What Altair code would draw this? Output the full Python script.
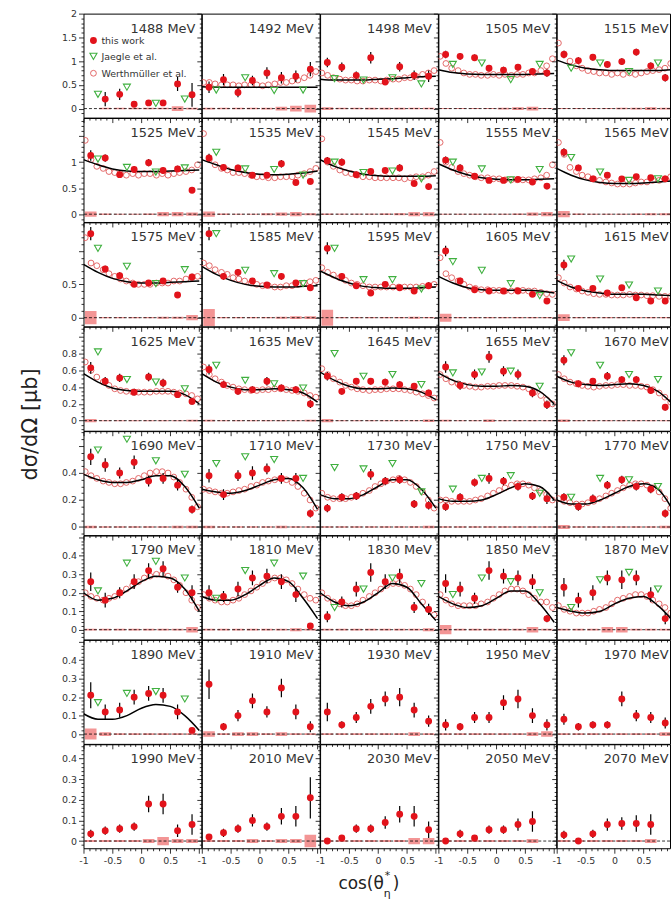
import json
import math
import altair as alt
import pandas as pd

# ---------------------------------------------------------------- data
ENERGIES = [1488, 1492, 1498, 1505, 1515,
            1525, 1535, 1545, 1555, 1565,
            1575, 1585, 1595, 1605, 1615,
            1625, 1635, 1645, 1655, 1670,
            1690, 1710, 1730, 1750, 1770,
            1790, 1810, 1830, 1850, 1870,
            1890, 1910, 1930, 1950, 1970,
            1990, 2010, 2030, 2050, 2070]

TW_X = [-0.875, -0.625, -0.375, -0.125, 0.125, 0.375, 0.625, 0.875]
JG_X = [-0.75, -0.25, 0.25, 0.75]
WM_X = [-0.97, -0.87, -0.77, -0.66, -0.56, -0.46, -0.36, -0.26, -0.15, -0.05,
        0.05, 0.15, 0.26, 0.36, 0.46, 0.56, 0.66, 0.77, 0.87, 0.97]
FIT_X = [-1.0, -0.75, -0.5, -0.25, 0.0, 0.25, 0.5, 0.75, 1.0]

# this work: cross sections
TW_Y = [
    [None, 0.20, 0.30, 0.09, 0.12, 0.12, 0.52, 0.29],
    [0.45, 0.61, 0.34, 0.59, 0.75, 0.65, 0.68, 0.83],
    [0.97, 0.87, 0.70, 1.07, 0.56, 0.88, 0.70, 0.68],
    [1.14, 1.10, 1.07, 0.85, 0.81, 0.87, 0.78, 0.75],
    [1.14, 1.01, 1.08, 0.93, 0.99, 1.19, 0.90, 0.65],
    [1.13, 1.08, 0.76, 0.86, 0.99, 0.84, 0.87, 0.46],
    [1.08, 0.90, 0.89, 0.75, 0.75, 0.97, 0.61, 0.63],
    [1.03, 1.00, 0.76, 0.82, 0.84, 0.89, 0.59, 0.53],
    [1.04, 0.89, 0.73, 0.65, 0.65, 0.67, 0.62, 0.54],
    [1.19, 0.89, 0.68, 0.75, 0.68, 0.72, 0.70, 0.68],
    [1.26, 0.73, 0.63, 0.50, 0.52, 0.55, 0.34, 0.61],
    [1.26, 0.62, 0.68, 0.55, 0.49, 0.62, 0.52, 0.45],
    [1.04, 0.62, 0.48, 0.37, 0.50, 0.45, 0.40, 0.48],
    [1.00, 0.55, 0.42, 0.40, 0.40, 0.40, 0.35, 0.25],
    [0.79, 0.44, 0.44, 0.37, 0.45, 0.30, 0.25, 0.25],
    [0.63, 0.47, 0.51, 0.34, 0.52, 0.45, 0.31, 0.23],
    [0.61, 0.43, 0.35, 0.37, 0.47, 0.39, 0.37, 0.20],
    [0.53, 0.35, 0.47, 0.47, 0.46, 0.43, 0.41, 0.33],
    [0.64, 0.42, 0.55, 0.76, 0.59, 0.55, 0.33, 0.19],
    [0.72, 0.44, 0.47, 0.53, 0.49, 0.49, 0.36, 0.16],
    [0.52, 0.46, 0.40, 0.48, 0.34, 0.36, 0.31, 0.13],
    [0.38, 0.24, 0.38, 0.40, 0.43, 0.36, 0.36, 0.10],
    [0.14, 0.22, 0.23, 0.39, 0.34, 0.35, 0.17, 0.16],
    [0.15, 0.22, 0.33, 0.36, 0.34, 0.30, 0.23, 0.21],
    [0.22, 0.15, 0.21, 0.31, 0.35, 0.30, 0.28, 0.10],
    [0.26, 0.16, 0.20, 0.26, 0.32, 0.33, 0.23, 0.20],
    [0.20, 0.18, 0.22, 0.28, 0.29, 0.26, 0.19, 0.02],
    [0.07, 0.15, 0.22, 0.31, 0.26, 0.29, 0.12, 0.11],
    [0.25, 0.22, 0.17, 0.32, 0.29, 0.28, 0.26, 0.06],
    [0.23, 0.16, 0.20, 0.28, 0.27, 0.28, 0.19, 0.06],
    [0.21, 0.12, 0.13, 0.20, 0.22, 0.21, 0.12, 0.02],
    [0.27, 0.04, 0.10, 0.18, 0.12, 0.25, 0.12, 0.04],
    [0.12, 0.05, 0.09, 0.15, 0.19, 0.20, 0.13, 0.07],
    [0.05, 0.04, 0.09, 0.09, 0.17, 0.19, 0.10, 0.05],
    [0.08, 0.04, 0.05, 0.05, 0.19, 0.10, 0.09, 0.06],
    [0.035, 0.05, 0.06, 0.07, 0.18, 0.18, 0.05, 0.08],
    [0.02, 0.04, 0.06, 0.10, 0.07, 0.12, 0.12, 0.21],
    [0.0, 0.015, 0.06, 0.06, 0.09, 0.13, 0.12, 0.055],
    [0.0, 0.035, 0.015, 0.055, 0.055, 0.08, 0.095, None],
    [0.03, 0.0, 0.035, 0.08, 0.085, 0.085, 0.08, None],
]

# this work: statistical errors
TW_ERR = [
    [0, 0.15, 0.12, 0.05, 0.06, 0.06, 0.15, 0.25],
    [0.12, 0.12, 0.10, 0.10, 0.12, 0.12, 0.12, 0.15],
    [0.10, 0.10, 0.08, 0.12, 0.06, 0.10, 0.10, 0.12],
    [0.08, 0.07, 0.07, 0.07, 0.07, 0.07, 0.07, 0.08],
    [0.08, 0.07, 0.07, 0.07, 0.07, 0.07, 0.07, 0.08],
    [0.10, 0.07, 0.06, 0.06, 0.07, 0.06, 0.06, 0.04],
    [0.08, 0.06, 0.06, 0.05, 0.05, 0.07, 0.05, 0.06],
    [0.07, 0.07, 0.06, 0.05, 0.05, 0.07, 0.05, 0.06],
    [0.07, 0.07, 0.05, 0.05, 0.05, 0.05, 0.05, 0.06],
    [0.08, 0.06, 0.05, 0.05, 0.05, 0.05, 0.05, 0.05],
    [0.10, 0.05, 0.05, 0.04, 0.04, 0.04, 0.01, 0.05],
    [0.10, 0.05, 0.05, 0.04, 0.04, 0.05, 0.04, 0.05],
    [0.09, 0.05, 0.04, 0.04, 0.04, 0.04, 0.04, 0.05],
    [0.08, 0.05, 0.04, 0.03, 0.03, 0.03, 0.04, 0.04],
    [0.08, 0.04, 0.04, 0.03, 0.03, 0.04, 0.04, 0.04],
    [0.07, 0.05, 0.05, 0.04, 0.05, 0.05, 0.04, 0.04],
    [0.06, 0.04, 0.04, 0.04, 0.05, 0.04, 0.04, 0.05],
    [0.05, 0.04, 0.04, 0.04, 0.04, 0.04, 0.04, 0.04],
    [0.07, 0.05, 0.06, 0.07, 0.06, 0.06, 0.05, 0.05],
    [0.06, 0.04, 0.04, 0.05, 0.04, 0.04, 0.04, 0.04],
    [0.06, 0.05, 0.04, 0.05, 0.04, 0.04, 0.04, 0.03],
    [0.05, 0.04, 0.04, 0.05, 0.04, 0.04, 0.04, 0.03],
    [0.03, 0.03, 0.03, 0.04, 0.03, 0.03, 0.03, 0.03],
    [0.03, 0.03, 0.03, 0.04, 0.03, 0.03, 0.03, 0.04],
    [0.03, 0.03, 0.03, 0.03, 0.03, 0.03, 0.03, 0.03],
    [0.05, 0.04, 0.03, 0.04, 0.04, 0.04, 0.03, 0.04],
    [0.04, 0.03, 0.04, 0.04, 0.04, 0.04, 0.04, 0.01],
    [0.03, 0.03, 0.04, 0.05, 0.04, 0.04, 0.03, 0.03],
    [0.05, 0.04, 0.03, 0.05, 0.04, 0.04, 0.04, 0.02],
    [0.05, 0.04, 0.04, 0.04, 0.05, 0.04, 0.04, 0.03],
    [0.07, 0.04, 0.04, 0.04, 0.04, 0.04, 0.04, 0.01],
    [0.08, 0.02, 0.03, 0.04, 0.03, 0.05, 0.04, 0.03],
    [0.05, 0.02, 0.03, 0.04, 0.04, 0.05, 0.04, 0.03],
    [0.03, 0.02, 0.03, 0.03, 0.04, 0.05, 0.04, 0.03],
    [0.03, 0.02, 0.02, 0.02, 0.04, 0.03, 0.03, 0.03],
    [0.02, 0.02, 0.02, 0.02, 0.04, 0.05, 0.03, 0.05],
    [0.01, 0.02, 0.02, 0.03, 0.02, 0.04, 0.05, 0.10],
    [0.01, 0.01, 0.02, 0.02, 0.03, 0.04, 0.05, 0.04],
    [0.01, 0.02, 0.01, 0.02, 0.02, 0.03, 0.05, 0],
    [0.02, 0.01, 0.02, 0.03, 0.03, 0.04, 0.05, 0],
]

# this work: systematic uncertainty (half height of the boxes)
SYS = [
    [0, 0.015, 0.015, 0.015, 0.015, 0.015, 0.05, 0.02],
    [0.02, 0.015, 0.015, 0.015, 0.02, 0.04, 0.06, 0.08],
    [0.03, 0.015, 0.015, 0.02, 0.02, 0.02, 0.015, 0.015],
    [0.01, 0.01, 0.01, 0.01, 0.02, 0.03, 0.04, 0.01],
    [0.01, 0.01, 0.01, 0.01, 0.015, 0.02, 0.03, 0.02],
    [0.05, 0.015, 0.01, 0.01, 0.015, 0.04, 0.04, 0.03],
    [0.05, 0.015, 0.01, 0.01, 0.02, 0.03, 0.04, 0.02],
    [0.015, 0.01, 0.01, 0.01, 0.015, 0.02, 0.04, 0.04],
    [0.01, 0.01, 0.01, 0.01, 0.01, 0.015, 0.03, 0.04],
    [0.06, 0.015, 0.01, 0.01, 0.01, 0.015, 0.02, 0.02],
    [0.10, 0.01, 0.01, 0.01, 0.01, 0.015, 0.015, 0.04],
    [0.13, 0.01, 0.01, 0.01, 0.01, 0.015, 0.02, 0.02],
    [0.12, 0.01, 0.01, 0.01, 0.01, 0.01, 0.015, 0.01],
    [0.06, 0.01, 0.01, 0.01, 0.01, 0.01, 0.01, 0.01],
    [0.05, 0.01, 0.01, 0.01, 0.01, 0.01, 0.01, 0.01],
    [0.02, 0.006, 0.006, 0.006, 0.006, 0.006, 0.006, 0.01],
    [0.01, 0.006, 0.006, 0.006, 0.006, 0.006, 0.006, 0.01],
    [0.02, 0.006, 0.006, 0.006, 0.006, 0.006, 0.006, 0.015],
    [0.01, 0.006, 0.006, 0.015, 0.006, 0.006, 0.006, 0.006],
    [0.015, 0.006, 0.006, 0.006, 0.006, 0.006, 0.006, 0.006],
    [0.01, 0.005, 0.005, 0.005, 0.005, 0.005, 0.01, 0.01],
    [0.01, 0.005, 0.005, 0.005, 0.005, 0.01, 0.005, 0.005],
    [0.005, 0.005, 0.005, 0.005, 0.005, 0.005, 0.005, 0.01],
    [0.005, 0.005, 0.005, 0.005, 0.005, 0.005, 0.005, 0.005],
    [0.015, 0.005, 0.005, 0.005, 0.005, 0.005, 0.005, 0.01],
    [0.005, 0.005, 0.005, 0.005, 0.005, 0.005, 0.005, 0.015],
    [0.005, 0.005, 0.005, 0.005, 0.005, 0.005, 0.008, 0.005],
    [0.005, 0.005, 0.005, 0.005, 0.005, 0.005, 0.005, 0.008],
    [0.025, 0.005, 0.005, 0.005, 0.005, 0.005, 0.015, 0.005],
    [0.005, 0.005, 0.005, 0.015, 0.015, 0.005, 0.005, 0.005],
    [0.03, 0.01, 0.005, 0.005, 0.005, 0.005, 0.005, 0.005],
    [0.015, 0.005, 0.01, 0.01, 0.005, 0.01, 0.005, 0.005],
    [0.005, 0.005, 0.005, 0.005, 0.005, 0.005, 0.01, 0.005],
    [0.005, 0.005, 0.005, 0.005, 0.005, 0.005, 0.01, 0.015],
    [0.005, 0.005, 0.005, 0.005, 0.005, 0.005, 0.005, 0.01],
    [0.005, 0.005, 0.005, 0.005, 0.01, 0.02, 0.01, 0.01],
    [0.005, 0.005, 0.005, 0.01, 0.005, 0.01, 0.01, 0.03],
    [0.005, 0.005, 0.005, 0.005, 0.005, 0.005, 0.015, 0.015],
    [0.005, 0.005, 0.005, 0.005, 0.005, 0.005, 0.01, 0],
    [0.005, 0.005, 0.005, 0.005, 0.005, 0.005, 0.01, 0],
]

# Jaegle et al.
JG_Y = [
    [0.30, 0.45, 0.11, 0.20], [0.39, 0.65, 0.38, 0.39], [0.63, 0.60, 0.65, 0.52],
    [0.93, 0.96, 0.61, 0.93], [0.85, 0.96, 0.78, 0.96],
    [1.06, 0.90, 0.81, 0.89], [1.19, 0.87, 0.86, 0.75], [1.00, 0.80, 0.83, 0.68],
    [1.00, 0.87, 0.66, 0.86], [1.09, 0.81, 0.65, 0.68],
    [1.04, 0.77, 0.51, 0.72], [1.26, 0.71, 0.66, 0.51], [1.04, 0.57, 0.57, 0.43],
    [0.84, 0.71, 0.51, 0.33], [0.88, 0.58, 0.49, 0.40],
    [0.82, 0.49, 0.46, 0.38], [0.66, 0.48, 0.44, 0.39], [0.80, 0.53, 0.55, 0.43],
    [0.57, 0.58, 0.59, 0.41], [0.81, 0.66, 0.55, 0.49],
    [0.57, 0.65, 0.49, 0.39], [0.47, 0.52, 0.50, 0.36], [0.44, 0.43, 0.47, 0.26],
    [0.28, 0.36, 0.38, 0.25], [0.22, 0.36, 0.35, 0.30],
    [0.21, 0.36, 0.37, 0.28], [0.17, 0.32, 0.36, 0.29], [0.12, 0.22, 0.28, 0.25],
    [0.19, 0.28, 0.26, 0.20], [0.12, 0.27, 0.31, 0.22],
    [0.17, 0.22, 0.23, 0.19],
    None, None, None, None, None, None, None, None, None,
]

# Werthmueller et al.
WM_Y = [
    None,
    [0.55, 0.55, 0.52, 0.50, 0.50, 0.50, 0.48, 0.50, 0.50, 0.50, 0.48, 0.50, 0.52, 0.55, 0.55, 0.58, 0.60, 0.65, 0.70, 0.78],
    [0.75, 0.70, 0.65, 0.62, 0.60, 0.60, 0.58, 0.58, 0.60, 0.60, 0.58, 0.60, 0.62, 0.62, 0.65, 0.65, 0.68, 0.72, 0.75, 0.80],
    [1.10, 0.95, 0.85, 0.80, 0.75, 0.72, 0.72, 0.70, 0.70, 0.72, 0.70, 0.72, 0.70, 0.72, 0.72, 0.75, 0.75, 0.80, 0.90, 1.05],
    [1.38, 1.15, 1.00, 0.90, 0.85, 0.80, 0.78, 0.75, 0.75, 0.72, 0.75, 0.72, 0.75, 0.72, 0.75, 0.78, 0.80, 0.82, 0.85, 0.95],
    [1.42, 1.05, 0.92, 0.88, 0.82, 0.80, 0.78, 0.75, 0.78, 0.75, 0.78, 0.78, 0.75, 0.78, 0.75, 0.78, 0.80, 0.82, 0.85, 0.95],
    [1.55, 1.05, 0.95, 0.88, 0.85, 0.80, 0.80, 0.78, 0.75, 0.72, 0.72, 0.70, 0.70, 0.72, 0.72, 0.72, 0.75, 0.78, 0.82, 0.88],
    [1.45, 1.00, 0.92, 0.85, 0.80, 0.78, 0.75, 0.72, 0.72, 0.70, 0.70, 0.70, 0.70, 0.70, 0.68, 0.70, 0.72, 0.72, 0.75, 0.82],
    [1.38, 1.00, 0.90, 0.82, 0.78, 0.75, 0.72, 0.70, 0.70, 0.68, 0.68, 0.66, 0.66, 0.66, 0.66, 0.66, 0.68, 0.70, 0.75, 0.95],
    [1.38, 1.15, 0.90, 0.82, 0.75, 0.72, 0.68, 0.65, 0.62, 0.60, 0.58, 0.58, 0.58, 0.60, 0.62, 0.62, 0.65, 0.65, 0.68, 0.72],
    [1.20, 0.82, 0.78, 0.72, 0.66, 0.62, 0.58, 0.55, 0.52, 0.50, 0.50, 0.50, 0.52, 0.52, 0.52, 0.55, 0.55, 0.58, 0.60, 0.62],
    [0.82, 0.78, 0.72, 0.68, 0.65, 0.60, 0.58, 0.55, 0.52, 0.50, 0.48, 0.48, 0.46, 0.46, 0.48, 0.48, 0.50, 0.52, 0.54, 0.56],
    [0.75, 0.68, 0.64, 0.60, 0.56, 0.52, 0.50, 0.48, 0.46, 0.46, 0.46, 0.46, 0.46, 0.46, 0.46, 0.46, 0.46, 0.47, 0.48, 0.50],
    [0.90, 0.66, 0.60, 0.55, 0.50, 0.46, 0.44, 0.42, 0.42, 0.41, 0.41, 0.40, 0.40, 0.41, 0.41, 0.40, 0.40, 0.38, 0.36, 0.35],
    [0.60, 0.52, 0.46, 0.43, 0.40, 0.38, 0.36, 0.35, 0.35, 0.34, 0.34, 0.34, 0.35, 0.34, 0.34, 0.33, 0.33, 0.32, 0.32, 0.32],
    [0.70, 0.60, 0.52, 0.46, 0.42, 0.38, 0.36, 0.35, 0.34, 0.34, 0.34, 0.34, 0.35, 0.35, 0.35, 0.34, 0.33, 0.32, 0.30, 0.26],
    [0.64, 0.55, 0.50, 0.46, 0.42, 0.40, 0.38, 0.37, 0.36, 0.36, 0.37, 0.37, 0.38, 0.38, 0.37, 0.36, 0.35, 0.33, 0.30, 0.28],
    [0.62, 0.55, 0.50, 0.46, 0.42, 0.40, 0.38, 0.37, 0.36, 0.37, 0.37, 0.38, 0.38, 0.38, 0.37, 0.36, 0.34, 0.32, 0.30, 0.27],
    [0.55, 0.50, 0.46, 0.44, 0.42, 0.41, 0.40, 0.40, 0.41, 0.41, 0.42, 0.42, 0.42, 0.41, 0.40, 0.38, 0.34, 0.30, 0.25, 0.20],
    [0.55, 0.50, 0.46, 0.44, 0.42, 0.41, 0.40, 0.41, 0.42, 0.42, 0.43, 0.43, 0.42, 0.42, 0.41, 0.40, 0.37, 0.33, 0.28, 0.22],
    [0.41, 0.38, 0.36, 0.34, 0.33, 0.32, 0.32, 0.33, 0.34, 0.36, 0.38, 0.40, 0.41, 0.41, 0.40, 0.37, 0.33, 0.28, 0.22, 0.15],
    [0.28, 0.27, 0.26, 0.25, 0.25, 0.26, 0.27, 0.28, 0.30, 0.31, 0.33, 0.34, 0.35, 0.36, 0.35, 0.33, 0.30, 0.25, 0.20, 0.14],
    [0.25, 0.22, 0.21, 0.21, 0.21, 0.22, 0.23, 0.25, 0.27, 0.30, 0.32, 0.34, 0.35, 0.36, 0.35, 0.33, 0.30, 0.26, 0.20, 0.14],
    [0.20, 0.20, 0.19, 0.19, 0.19, 0.19, 0.20, 0.21, 0.23, 0.25, 0.27, 0.29, 0.31, 0.32, 0.32, 0.31, 0.29, 0.27, 0.24, 0.20],
    [0.21, 0.19, 0.18, 0.17, 0.17, 0.18, 0.19, 0.21, 0.23, 0.25, 0.27, 0.29, 0.31, 0.32, 0.32, 0.31, 0.29, 0.26, 0.21, 0.14],
    [0.20, 0.18, 0.17, 0.16, 0.17, 0.18, 0.20, 0.22, 0.24, 0.26, 0.28, 0.29, 0.30, 0.30, 0.29, 0.27, 0.24, 0.20, 0.16, 0.12],
    [0.19, 0.17, 0.16, 0.15, 0.15, 0.16, 0.17, 0.19, 0.21, 0.23, 0.25, 0.27, 0.28, 0.28, 0.27, 0.25, 0.22, 0.19, 0.17, 0.16],
    [0.20, 0.17, 0.15, 0.14, 0.13, 0.13, 0.14, 0.16, 0.18, 0.20, 0.22, 0.24, 0.25, 0.25, 0.24, 0.22, 0.19, 0.15, 0.11, 0.08],
    [0.19, 0.16, 0.14, 0.13, 0.13, 0.13, 0.13, 0.14, 0.15, 0.17, 0.19, 0.21, 0.22, 0.22, 0.21, 0.19, 0.17, 0.15, 0.15, 0.12],
    [0.13, 0.11, 0.10, 0.09, 0.09, 0.09, 0.10, 0.11, 0.12, 0.14, 0.16, 0.17, 0.18, 0.19, 0.19, 0.18, 0.16, 0.14, 0.12, 0.09],
    None, None, None, None, None, None, None, None, None, None,
]

# model curve
FIT_Y = [
    None,
    [0.46, 0.45, 0.45, 0.45, 0.45, 0.45, 0.45, 0.45, 0.45],
    [0.62, 0.60, 0.60, 0.60, 0.62, 0.63, 0.65, 0.67, 0.68],
    [0.82, 0.76, 0.73, 0.72, 0.72, 0.72, 0.72, 0.73, 0.74],
    [1.02, 0.92, 0.85, 0.82, 0.80, 0.80, 0.80, 0.80, 0.82],
    [1.05, 0.95, 0.87, 0.83, 0.82, 0.82, 0.83, 0.84, 0.85],
    [1.05, 0.95, 0.86, 0.80, 0.77, 0.76, 0.77, 0.79, 0.83],
    [1.05, 0.92, 0.83, 0.77, 0.74, 0.73, 0.73, 0.73, 0.74],
    [0.97, 0.85, 0.76, 0.70, 0.67, 0.66, 0.66, 0.67, 0.68],
    [0.88, 0.75, 0.66, 0.61, 0.59, 0.59, 0.60, 0.62, 0.64],
    [0.80, 0.68, 0.59, 0.54, 0.52, 0.52, 0.53, 0.54, 0.55],
    [0.77, 0.65, 0.56, 0.50, 0.47, 0.46, 0.46, 0.47, 0.48],
    [0.70, 0.60, 0.52, 0.47, 0.45, 0.44, 0.44, 0.45, 0.46],
    [0.62, 0.52, 0.45, 0.42, 0.41, 0.41, 0.41, 0.40, 0.37],
    [0.56, 0.46, 0.40, 0.37, 0.35, 0.35, 0.35, 0.34, 0.33],
    [0.56, 0.46, 0.39, 0.36, 0.35, 0.35, 0.35, 0.31, 0.20],
    [0.56, 0.46, 0.40, 0.37, 0.37, 0.38, 0.37, 0.33, 0.22],
    [0.58, 0.48, 0.41, 0.38, 0.38, 0.39, 0.38, 0.34, 0.25],
    [0.57, 0.48, 0.43, 0.41, 0.41, 0.42, 0.41, 0.35, 0.20],
    [0.53, 0.46, 0.43, 0.42, 0.43, 0.44, 0.42, 0.35, 0.20],
    [0.39, 0.35, 0.33, 0.33, 0.35, 0.38, 0.38, 0.30, 0.14],
    [0.28, 0.26, 0.25, 0.27, 0.31, 0.35, 0.36, 0.29, 0.13],
    [0.24, 0.21, 0.21, 0.24, 0.30, 0.35, 0.35, 0.28, 0.14],
    [0.21, 0.19, 0.19, 0.20, 0.24, 0.29, 0.32, 0.30, 0.20],
    [0.20, 0.17, 0.17, 0.20, 0.25, 0.30, 0.32, 0.28, 0.13],
    [0.20, 0.16, 0.17, 0.21, 0.26, 0.29, 0.28, 0.22, 0.10],
    [0.18, 0.16, 0.16, 0.19, 0.24, 0.28, 0.26, 0.17, 0.06],
    [0.20, 0.15, 0.13, 0.15, 0.20, 0.25, 0.23, 0.14, 0.05],
    [0.18, 0.14, 0.12, 0.13, 0.17, 0.21, 0.21, 0.14, 0.04],
    [0.12, 0.10, 0.09, 0.10, 0.14, 0.17, 0.18, 0.13, 0.05],
    [0.11, 0.08, 0.08, 0.10, 0.14, 0.16, 0.15, 0.10, 0.02],
    None, None, None, None, None, None, None, None, None,
]

# axes
ROW_DOMAINS = [[-0.19, 2.0], [-0.15, 1.85], [-0.13, 1.43], [-0.12, 1.12],
               [-0.06, 0.71], [-0.053, 0.51], [-0.053, 0.51], [-0.035, 0.47]]
ROW_LABELS = [[0, 0.5, 1, 1.5, 2], [0, 0.5, 1], [0, 0.5], [0, 0.2, 0.4, 0.6, 0.8],
              [0, 0.2, 0.4], [0, 0.1, 0.2, 0.3, 0.4], [0, 0.1, 0.2, 0.3, 0.4],
              [0, 0.1, 0.2, 0.3, 0.4]]
ROW_MAJOR = [0.5, 0.5, 0.5, 0.2, 0.2, 0.1, 0.1, 0.1]
ROW_MINOR = [0.1, 0.1, 0.1, 0.05, 0.05, 0.02, 0.02, 0.02]
X_LABELS = [-1, -0.5, 0, 0.5]

LEGEND_LABELS = ["this work", "Jaegle et al.", "Werthmüller et al."]
Y_TITLE = "dσ/dΩ [μb]"
X_TITLE_PARTS = ["cos(θ", "*", "η", ")"]

# ---------------------------------------------------------------- style
PW = 118.5
PH = 104.6
LAST_W = 114.0
LEFT = 83
TOP = 10
BOTTOM_ROOM = 54
UNIT_PX = PW / 2.035
FONT = "DejaVu Sans"
RED = "#e2131b"
WM_COL = "#e05a5a"
JG_COL = "#3fb03f"
SYS_COL = "#f07a7a"
TXT = "#333333"
TITLE_COL = "#222222"
TW_SIZE = 48
JG_SIZE = 50
WM_SIZE = 34


def tick_list(lo, hi, step):
    n0 = math.ceil(lo / step - 1e-9)
    n1 = math.floor(hi / step + 1e-9)
    return [round(i * step, 4) for i in range(n0, n1 + 1)]


def make_axis(values, major, labels, show):
    test = f"abs(datum.value / {major} - round(datum.value / {major})) < 0.001"
    kw = dict(values=values, title=None, grid=False, domain=False,
              ticks=True, tickColor="black", tickWidth=0.8,
              tickSize={"condition": {"test": test, "value": 5}, "value": 2.5},
              labels=show, labelOverlap=False, labelFlush=False,
              labelFont=FONT, labelFontSize=9.5, labelColor=TXT, labelPadding=2)
    if show:
        kw["labelExpr"] = (f"indexof({json.dumps(labels)}, datum.value) >= 0 "
                           f"? '' + datum.value : ''")
    return alt.Axis(**kw)


def text_layer(txt, x, y, size, align="left", color=TXT, angle=None):
    mk = dict(align=align, baseline="alphabetic", font=FONT, fontSize=size, color=color)
    if angle is not None:
        mk["angle"] = angle
        mk["baseline"] = "middle"
    return (alt.Chart(pd.DataFrame({"t": [txt]})).mark_text(**mk)
            .encode(x=alt.value(x), y=alt.value(y), text="t:N"))


def anchor_rule(x, y, y2):
    # invisible rule that only fixes the extent of the page
    return (alt.Chart(pd.DataFrame({"a": [0]})).mark_rule(strokeOpacity=0, color="white")
            .encode(x=alt.value(x), y=alt.value(y), y2=alt.value(y2)))


def panel(i):
    r, c = divmod(i, 5)
    e = ENERGIES[i]
    lo, hi = ROW_DOMAINS[r]
    w = LAST_W if c == 4 else PW
    xdom = [-1.0, round(-1.0 + w / UNIT_PX, 4)]
    xax = make_axis(tick_list(-1.0, xdom[1], 0.1), 0.5, X_LABELS, r == 7)
    yax = make_axis(tick_list(lo, hi, ROW_MINOR[r]), ROW_MAJOR[r], ROW_LABELS[r], c == 0)
    xs = alt.Scale(domain=xdom, nice=False, zero=False)
    ys = alt.Scale(domain=[lo, hi], nice=False, zero=False)

    def X(f):
        return alt.X(f"{f}:Q", scale=xs, axis=xax)

    def Y(f):
        return alt.Y(f"{f}:Q", scale=ys, axis=yax)

    layers = []
    tw = [(x, y, er, s) for x, y, er, s in zip(TW_X, TW_Y[i], TW_ERR[i], SYS[i]) if y is not None]
    sys_df = pd.DataFrame({"xa": [t[0] - 0.1 for t in tw], "xb": [t[0] + 0.1 for t in tw],
                           "ya": [-t[3] for t in tw], "yb": [t[3] for t in tw]})
    layers.append(alt.Chart(sys_df).mark_rect(color=SYS_COL, opacity=0.8, clip=True)
                  .encode(x=X("xa"), x2="xb", y=Y("ya"), y2="yb"))
    layers.append(alt.Chart(pd.DataFrame({"z": [0.0]}))
                  .mark_rule(color="black", strokeDash=[3, 2], strokeWidth=0.8)
                  .encode(y=Y("z")))
    if WM_Y[i] is not None:
        wm_df = pd.DataFrame({"x": WM_X, "y": WM_Y[i]})
        layers.append(alt.Chart(wm_df).mark_point(shape="circle", filled=False, size=WM_SIZE,
                                                   color=WM_COL, strokeWidth=0.9, opacity=1, clip=True)
                      .encode(x=X("x"), y=Y("y")))
    if FIT_Y[i] is not None:
        fit_df = pd.DataFrame({"x": FIT_X, "y": FIT_Y[i]})
        layers.append(alt.Chart(fit_df).mark_line(color="black", strokeWidth=1.5,
                                                   interpolate="monotone", clip=True)
                      .encode(x=X("x"), y=Y("y")))
    if JG_Y[i] is not None:
        jg_df = pd.DataFrame({"x": JG_X, "y": JG_Y[i]})
        layers.append(alt.Chart(jg_df).mark_point(shape="triangle-down", filled=False, size=JG_SIZE,
                                                   color=JG_COL, strokeWidth=1.1, opacity=1, clip=True)
                      .encode(x=X("x"), y=Y("y")))
    err_df = pd.DataFrame({"x": [t[0] for t in tw], "lo": [t[1] - t[2] for t in tw],
                           "hi": [t[1] + t[2] for t in tw]})
    layers.append(alt.Chart(err_df).mark_rule(color="black", strokeWidth=1.2, clip=True)
                  .encode(x=X("x"), y=Y("lo"), y2="hi"))
    tw_df = pd.DataFrame({"x": [t[0] for t in tw], "y": [t[1] for t in tw]})
    layers.append(alt.Chart(tw_df).mark_point(shape="circle", filled=True, size=TW_SIZE,
                                               color=RED, opacity=1, clip=True)
                  .encode(x=X("x"), y=Y("y")))
    layers.append(text_layer(f"{e} MeV", PW - 6, 19, 13, align="right"))

    if i == 0:
        lg = pd.DataFrame({"t": LEGEND_LABELS})
        layers.append(alt.Chart(lg.iloc[[0]]).mark_point(shape="circle", filled=True, size=TW_SIZE,
                                                          color=RED, opacity=1)
                      .encode(x=alt.value(10), y=alt.value(27)))
        layers.append(alt.Chart(lg.iloc[[1]]).mark_point(shape="triangle-down", filled=False, size=JG_SIZE,
                                                          color=JG_COL, strokeWidth=1.1, opacity=1)
                      .encode(x=alt.value(10), y=alt.value(43)))
        layers.append(alt.Chart(lg.iloc[[2]]).mark_point(shape="circle", filled=False, size=WM_SIZE,
                                                          color=WM_COL, strokeWidth=0.9, opacity=1)
                      .encode(x=alt.value(10), y=alt.value(60)))
        for k, yy in enumerate([31, 47, 64]):
            layers.append(text_layer(LEGEND_LABELS[k], 18, yy, 9.5))
        # page extent: top-left corner of the window
        layers.append(anchor_rule(-LEFT, -TOP, 0))
    if i == 15:
        # y title, centred at page y ~ 422
        page_top = TOP + 3 * PH
        layers.append(text_layer(Y_TITLE, 30 - LEFT, 422 - page_top, 21,
                                 align="center", color=TITLE_COL, angle=270))
    if i == 35:
        layers.append(anchor_rule(-LEFT, PH, PH + BOTTOM_ROOM))
    if i == 37:
        page_top = TOP + 7 * PH
        x0 = LEFT + 2 * PW
        layers.append(text_layer(X_TITLE_PARTS[0], 384 - x0, 888 - page_top, 17, align="right", color=TITLE_COL))
        layers.append(text_layer(X_TITLE_PARTS[1], 385 - x0, 878 - page_top, 11, color=TITLE_COL))
        layers.append(text_layer(X_TITLE_PARTS[2], 384 - x0, 896 - page_top, 11, color=TITLE_COL))
        layers.append(text_layer(X_TITLE_PARTS[3], 393 - x0, 888 - page_top, 17, color=TITLE_COL))
    return alt.layer(*layers).properties(width=w, height=PH)


chart = (alt.concat(*[panel(i) for i in range(40)], columns=5, spacing=0, bounds="flush")
         .resolve_scale(x="independent", y="independent")
         .properties(padding={"left": 0, "top": 0, "right": 0, "bottom": 0}, background="white")
         .configure_view(stroke="black", strokeWidth=1))

chart.save("out.html", embed_options={"renderer": "svg", "actions": False})
